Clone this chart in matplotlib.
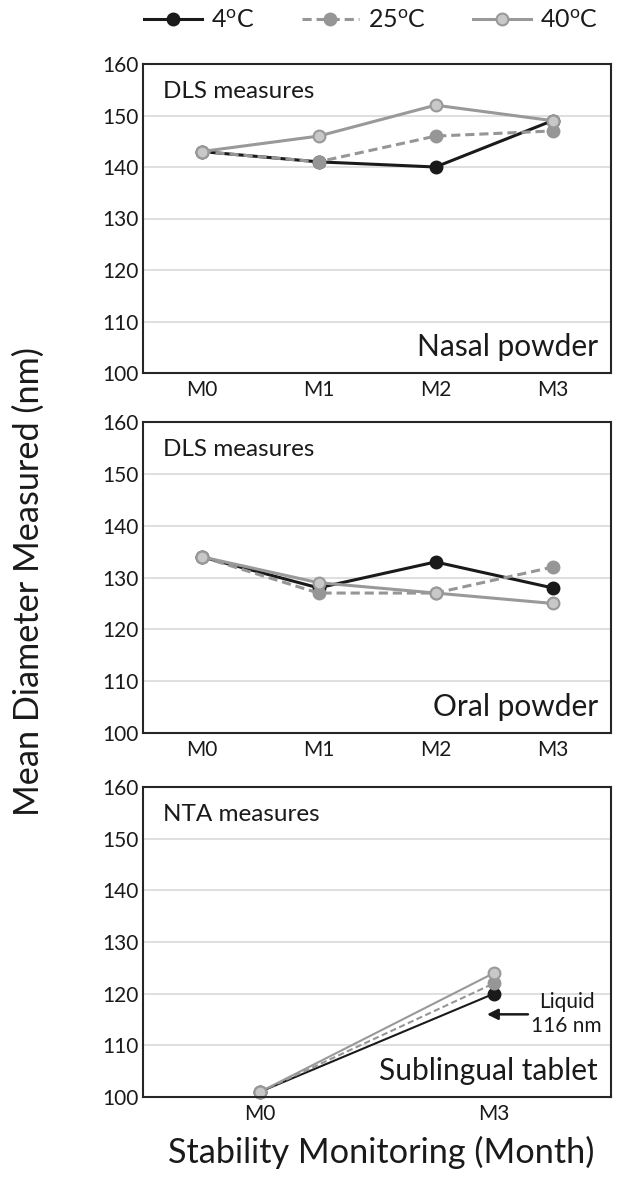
import matplotlib
matplotlib.use("Agg")
import matplotlib.pyplot as plt

plt.rcParams['mathtext.fontset'] = 'custom'
plt.rcParams['mathtext.rm'] = 'Lato'

months4 = ["M0", "M1", "M2", "M3"]
months2 = ["M0", "M3"]
series_labels = ["4$^{\\mathrm{o}}$C", "25$^{\\mathrm{o}}$C", "40$^{\\mathrm{o}}$C"]

nasal_4 = [143, 141, 140, 149]
nasal_25 = [143, 141, 146, 147]
nasal_40 = [143, 146, 152, 149]

oral_4 = [134, 128, 133, 128]
oral_25 = [134, 127, 127, 132]
oral_40 = [134, 129, 127, 125]

subl_4 = [101, 120]
subl_25 = [101, 122]
subl_40 = [101, 124]

liquid_value = 116
yticks = [100, 110, 120, 130, 140, 150, 160]

W, H = 623, 1180
fig = plt.figure(figsize=(W / 100, H / 100), dpi=100)

styles = [
    dict(color="#1a1a1a", ls="-", marker="o", mfc="#1a1a1a", mec="#1a1a1a"),
    dict(color="#969696", ls=(0, (3, 1.6)), marker="o", mfc="#969696", mec="#969696"),
    dict(color="#999999", ls="-", marker="o", mfc="#c8c8c8", mec="#999999"),
]

FONT = "Lato"

def make_ax(top, bottom, left=143, right=611):
    return fig.add_axes([left / W, 1 - bottom / H, (right - left) / W, (bottom - top) / H])

def style_ax(ax, cats):
    ax.set_ylim(100, 160)
    ax.set_yticks(yticks)
    ax.set_xlim(-0.5, len(cats) - 0.5)
    ax.set_xticks(range(len(cats)))
    ax.set_xticklabels(cats)
    ax.grid(axis="y", color="#d9d9d9", lw=1.2)
    ax.set_axisbelow(True)
    ax.tick_params(axis="y", length=0, labelsize=15, pad=3)
    ax.tick_params(axis="x", length=0, labelsize=15, pad=5)
    for lab in ax.get_xticklabels() + ax.get_yticklabels():
        lab.set_fontfamily(FONT)
        lab.set_color("#1a1a1a")
    for sp in ax.spines.values():
        sp.set_color("#262626")
        sp.set_linewidth(1.5)

panels = [
    (64, 373, months4, [nasal_4, nasal_25, nasal_40], "DLS measures", "Nasal powder", 2.2),
    (422, 733, months4, [oral_4, oral_25, oral_40], "DLS measures", "Oral powder", 2.2),
    (787, 1097, months2, [subl_4, subl_25, subl_40], "NTA measures", "Sublingual tablet", 1.5),
]

handles = []
for top, bottom, cats, data, tl, br, lw in panels:
    ax = make_ax(top, bottom)
    style_ax(ax, cats)
    x = list(range(len(cats)))
    hs = []
    for vals, st, lab in zip(data, styles, series_labels):
        h, = ax.plot(x, vals, lw=lw, ms=8.5, mew=1.5, label=lab, clip_on=False, **st)
        hs.append(h)
    if not handles:
        handles = hs
    ax.text(0.043, 0.91, tl, transform=ax.transAxes, fontsize=17.5, family=FONT,
            ha="left", va="center", color="#1a1a1a")
    ax.text(0.972, 0.085, br, transform=ax.transAxes, fontsize=21.5, family=FONT,
            ha="right", va="center", color="#1a1a1a")
    if cats == months2:
        ax.annotate("", xy=(0.97, liquid_value), xytext=(1.145, liquid_value),
                    arrowprops=dict(arrowstyle="-|>", color="#1a1a1a", lw=1.8,
                                    mutation_scale=16, shrinkA=0, shrinkB=0))
        ax.text(1.31, liquid_value, "Liquid\n116 nm", fontsize=15, family=FONT,
                ha="center", va="center", color="#1a1a1a", linespacing=1.25)

leg = fig.legend(handles, series_labels, loc="center", bbox_to_anchor=(371 / W, 1 - 20 / H),
                 ncol=3, frameon=False, handlelength=2.3, columnspacing=1.9, handletextpad=0.35,
                 prop={"family": FONT, "size": 18})
for t in leg.get_texts():
    t.set_color("#1a1a1a")

fig.text(29 / W, 1 - 582 / H, "Mean Diameter Measured (nm)", rotation=90, fontsize=24.7,
         family=FONT, ha="center", va="center", color="#1a1a1a")
fig.text(381 / W, 1 - 1152 / H, "Stability Monitoring (Month)", fontsize=24.7,
         family=FONT, ha="center", va="center", color="#1a1a1a")

fig.savefig("out.png", dpi=100)
